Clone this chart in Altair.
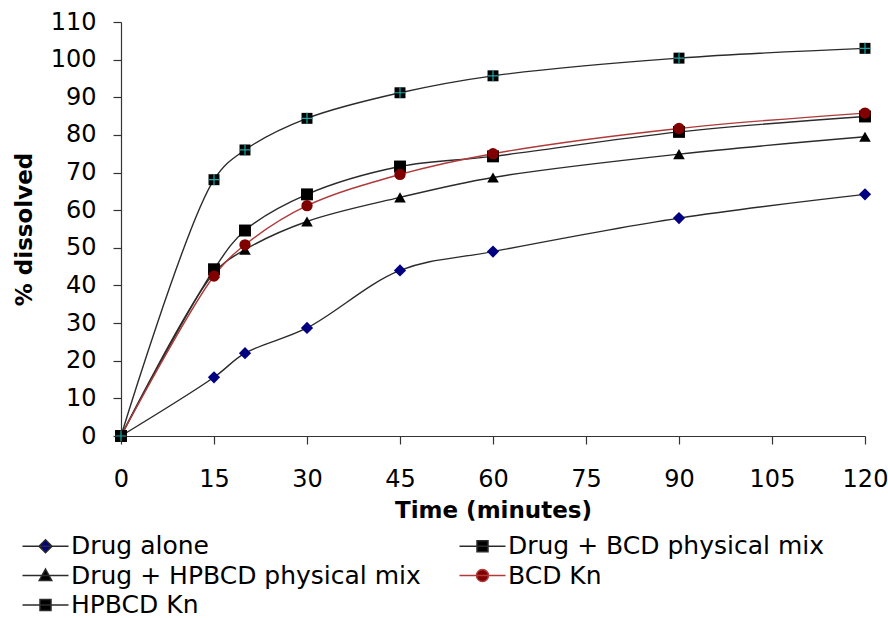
import altair as alt
import pandas as pd

# ---- data ----
time_min = [0, 15, 20, 30, 45, 60, 90, 120]
series_names = ["Drug alone", "Drug + BCD physical mix", "Drug + HPBCD physical mix", "BCD Kn", "HPBCD Kn"]
drug_alone = [0, 15.6, 22.0, 28.7, 44.0, 49.0, 57.9, 64.2]
drug_bcd_pm = [0, 44.3, 54.6, 64.2, 71.6, 74.3, 80.8, 84.9]
drug_hpbcd_pm = [0, 43.3, 49.5, 57.0, 63.4, 68.7, 74.9, 79.5]
bcd_kn = [0, 42.5, 50.8, 61.2, 69.5, 75.0, 81.7, 85.8]
hpbcd_kn = [0, 68.1, 76.0, 84.4, 91.2, 95.7, 100.4, 103.0]

x_ticks = [0, 15, 30, 45, 60, 75, 90, 105, 120]
y_ticks = [0, 10, 20, 30, 40, 50, 60, 70, 80, 90, 100, 110]

# legend entries are laid out column by column: this order gives the reference's rows
legend_order = ["Drug alone", "Drug + HPBCD physical mix", "HPBCD Kn", "Drug + BCD physical mix", "BCD Kn"]

# ---- styles ----
line_color = {"Drug alone": "#2b2b2b", "Drug + BCD physical mix": "#2b2b2b",
              "Drug + HPBCD physical mix": "#2b2b2b", "BCD Kn": "#b03a3a", "HPBCD Kn": "#2b2b2b"}
marker_fill = {"Drug alone": "#000080", "Drug + BCD physical mix": "#000000",
               "Drug + HPBCD physical mix": "#000000", "BCD Kn": "#800000", "HPBCD Kn": "#000000"}
marker_shape = {"Drug alone": "diamond", "Drug + BCD physical mix": "square",
                "Drug + HPBCD physical mix": "triangle-up", "BCD Kn": "circle", "HPBCD Kn": "square"}
marker_size = {"Drug alone": 150, "Drug + BCD physical mix": 120,
               "Drug + HPBCD physical mix": 140, "BCD Kn": 130, "HPBCD Kn": 120}
legend_path = {
    "Drug alone": "M-4.6,0H4.6M0,-1.3L1.3,0L0,1.3L-1.3,0Z",
    "Drug + BCD physical mix": "M-4.6,0H4.6M-1.1,-1.1H1.1V1.1H-1.1Z",
    "Drug + HPBCD physical mix": "M-4.6,0H4.6M0,-1.3L1.25,1L-1.25,1Z",
    "BCD Kn": "M-4.6,0H4.6M-1.2,0A1.2,1.2,0,1,0,1.2,0A1.2,1.2,0,1,0,-1.2,0Z",
    "HPBCD Kn": "M-4.6,0H4.6M-1.1,-1.1H1.1V1.1H-1.1Z",
}
FONT = "DejaVu Sans"

values = [drug_alone, drug_bcd_pm, drug_hpbcd_pm, bcd_kn, hpbcd_kn]
rows = []
for name, vals in zip(series_names, values):
    for t, v in zip(time_min, vals):
        rows.append({"time": t, "pct": v, "series": name})
df = pd.DataFrame(rows)

x_enc = alt.X("time:Q", scale=alt.Scale(domain=[0, 120], nice=False),
              axis=alt.Axis(values=x_ticks, title="Time (minutes)", labelPadding=23,
                            titlePadding=8, labelFlush=False))
y_enc = alt.Y("pct:Q", scale=alt.Scale(domain=[0, 110], nice=False),
              axis=alt.Axis(values=y_ticks, title="% dissolved", labelPadding=17,
                            titlePadding=14, labelFlush=False))

base = alt.Chart(df)

lines = base.mark_line(interpolate="catmull-rom", strokeWidth=1.4).encode(
    x=x_enc, y=y_enc,
    stroke=alt.Stroke("series:N", scale=alt.Scale(domain=series_names,
                                                  range=[line_color[s] for s in series_names]), legend=None),
)

points = base.mark_point(filled=True, opacity=1).encode(
    x=x_enc, y=y_enc,
    shape=alt.Shape("series:N", scale=alt.Scale(domain=series_names,
                                                range=[marker_shape[s] for s in series_names]), legend=None),
    fill=alt.Fill("series:N", scale=alt.Scale(domain=series_names,
                                              range=[marker_fill[s] for s in series_names]), legend=None),
    size=alt.Size("series:N", scale=alt.Scale(domain=series_names,
                                              range=[marker_size[s] for s in series_names]), legend=None),
)

cross = base.transform_filter(alt.datum.series == "HPBCD Kn").mark_point(
    shape="M-1,0H1M0,-1V1", size=120, filled=False, stroke="#1aa8a8", strokeWidth=1.2, opacity=1
).encode(x=x_enc, y=y_enc)

legend_def = alt.Legend(
    title=None, orient="none", legendX=-88, legendY=511.5, columns=2, columnPadding=35,
    rowPadding=3.5, padding=0, labelFont=FONT, labelFontSize=25, labelColor="black",
    labelOffset=13, symbolSize=100, symbolStrokeWidth=1.5, symbolOpacity=1,
    symbolFillColor="black", symbolStrokeColor="black", labelLimit=500,
)

legend_layer = base.transform_calculate(entry="datum.series").mark_point(
    filled=True, opacity=0
).encode(
    x=x_enc, y=y_enc,
    shape=alt.Shape("entry:N", scale=alt.Scale(domain=legend_order,
                                               range=[legend_path[s] for s in legend_order]), legend=legend_def),
    fill=alt.Fill("entry:N", scale=alt.Scale(domain=legend_order,
                                             range=[marker_fill[s] for s in legend_order]), legend=legend_def),
    stroke=alt.Stroke("entry:N", scale=alt.Scale(domain=legend_order,
                                                 range=[line_color[s] for s in legend_order]), legend=legend_def),
)

chart = alt.layer(lines, points, cross, legend_layer).resolve_scale(
    shape="independent", fill="independent", stroke="independent", size="independent"
).properties(
    width=744, height=414,
    padding={"left": 121, "top": 22, "right": 23, "bottom": 182},
    autosize=alt.AutoSizeParams(type="none"),
    background="white",
).configure_view(stroke=None).configure_axis(
    grid=False, domainColor="#333333", tickColor="#333333", domainWidth=1.2, tickWidth=1.2,
    tickSize=8, labelFont=FONT, labelFontSize=24, labelColor="black",
    titleFont=FONT, titleFontSize=23, titleFontWeight="bold", titleColor="black",
)

chart.save("out.html", embed_options={"renderer": "svg", "actions": False})
